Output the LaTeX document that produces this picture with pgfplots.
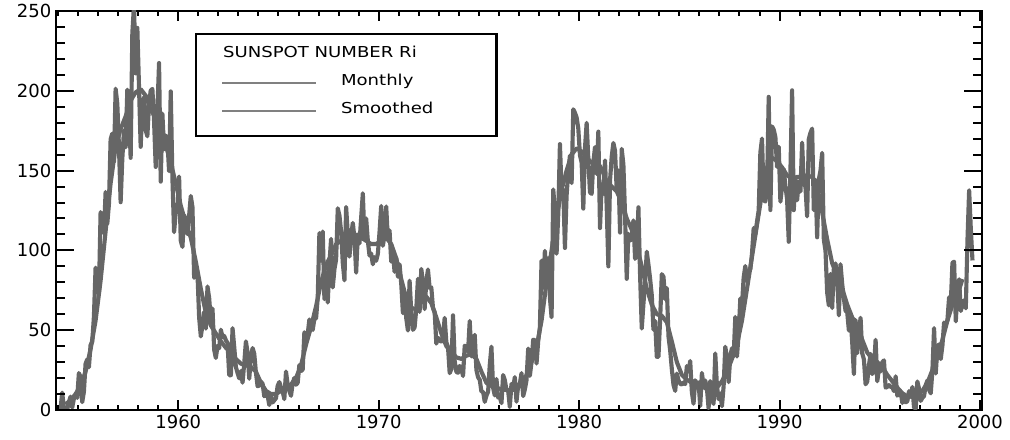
\documentclass[border=0pt]{standalone}
\usepackage{fontspec}
\setmainfont{DejaVu Sans}
\newfontfamily\legfont[FakeStretch=1.2]{DejaVu Sans}
\usepackage{pgfplots}
\pgfplotsset{compat=1.18}
\usepackage{pgfplotstable}
\usetikzlibrary{calc}

% monthly sunspot number, Jan 1954 - Aug 1999 (one row per month)
\pgfplotstableread[row sep=\\]{
r\\
0.2\\ 0.5\\ 10.9\\ 1.8\\ 0.8\\ 0.2\\ 4.8\\ 8.4\\ 1.5\\ 7.0\\ 9.2\\ 7.6\\
23.1\\ 20.8\\ 4.9\\ 11.3\\ 28.9\\ 31.7\\ 26.7\\ 40.7\\ 42.7\\ 58.5\\ 89.2\\ 76.9\\
73.6\\ 124.0\\ 118.4\\ 110.7\\ 136.6\\ 116.6\\ 129.1\\ 169.6\\ 173.2\\ 155.3\\ 201.3\\ 192.1\\
165.0\\ 130.2\\ 157.4\\ 175.2\\ 164.6\\ 200.7\\ 187.2\\ 158.0\\ 235.8\\ 253.8\\ 210.9\\ 239.4\\
202.5\\ 164.9\\ 190.7\\ 196.0\\ 175.3\\ 171.5\\ 191.4\\ 200.2\\ 201.2\\ 181.5\\ 152.3\\ 187.6\\
217.4\\ 143.1\\ 185.7\\ 163.3\\ 172.0\\ 168.7\\ 149.6\\ 199.6\\ 145.2\\ 111.4\\ 124.0\\ 125.0\\
146.3\\ 106.0\\ 102.2\\ 122.0\\ 119.6\\ 110.2\\ 121.7\\ 134.1\\ 127.2\\ 82.8\\ 89.6\\ 85.6\\
57.9\\ 46.1\\ 53.0\\ 61.4\\ 51.0\\ 77.4\\ 70.2\\ 55.9\\ 63.6\\ 37.7\\ 32.6\\ 40.0\\
38.7\\ 50.3\\ 45.6\\ 46.4\\ 43.7\\ 42.0\\ 21.8\\ 21.8\\ 51.3\\ 39.5\\ 26.9\\ 23.2\\
19.8\\ 24.4\\ 17.1\\ 29.3\\ 43.0\\ 35.9\\ 19.6\\ 33.2\\ 38.8\\ 35.3\\ 23.4\\ 14.9\\
15.3\\ 17.7\\ 16.5\\ 8.6\\ 9.5\\ 9.1\\ 3.1\\ 9.3\\ 4.7\\ 6.1\\ 7.4\\ 15.1\\
17.5\\ 14.2\\ 11.7\\ 6.8\\ 24.1\\ 15.9\\ 11.9\\ 8.9\\ 16.8\\ 20.1\\ 15.8\\ 17.0\\
28.2\\ 24.4\\ 25.3\\ 48.7\\ 45.3\\ 47.7\\ 56.7\\ 51.2\\ 50.2\\ 57.2\\ 57.2\\ 70.4\\
110.9\\ 93.6\\ 111.8\\ 69.5\\ 86.5\\ 67.3\\ 91.5\\ 107.2\\ 76.8\\ 88.2\\ 94.3\\ 126.4\\
121.8\\ 111.9\\ 92.2\\ 81.2\\ 127.2\\ 110.3\\ 96.1\\ 109.3\\ 117.2\\ 107.7\\ 86.0\\ 109.8\\
104.4\\ 120.5\\ 135.8\\ 106.8\\ 120.0\\ 106.0\\ 96.8\\ 98.0\\ 91.3\\ 95.7\\ 93.5\\ 97.9\\
111.5\\ 127.8\\ 102.9\\ 109.5\\ 127.5\\ 106.8\\ 112.5\\ 93.0\\ 99.5\\ 86.6\\ 95.2\\ 83.5\\
91.3\\ 79.0\\ 60.7\\ 71.8\\ 57.5\\ 49.8\\ 81.0\\ 61.4\\ 50.2\\ 51.7\\ 63.2\\ 82.2\\
61.5\\ 88.4\\ 80.1\\ 63.2\\ 80.5\\ 88.0\\ 76.5\\ 76.8\\ 64.0\\ 61.3\\ 41.6\\ 45.3\\
43.4\\ 42.9\\ 46.0\\ 57.7\\ 42.4\\ 39.5\\ 23.1\\ 25.6\\ 59.3\\ 30.7\\ 23.9\\ 23.3\\
27.6\\ 26.0\\ 21.3\\ 40.3\\ 39.5\\ 36.6\\ 55.8\\ 33.6\\ 40.2\\ 47.1\\ 25.0\\ 20.5\\
18.9\\ 11.5\\ 11.5\\ 5.1\\ 9.0\\ 11.4\\ 28.2\\ 39.7\\ 13.9\\ 9.1\\ 19.4\\ 7.8\\
8.1\\ 4.3\\ 21.9\\ 18.8\\ 12.4\\ 12.2\\ 1.9\\ 16.4\\ 13.5\\ 20.6\\ 5.2\\ 15.3\\
16.4\\ 23.1\\ 8.7\\ 12.9\\ 18.6\\ 38.5\\ 21.4\\ 30.1\\ 44.0\\ 43.8\\ 29.1\\ 43.2\\
51.9\\ 93.6\\ 76.5\\ 99.7\\ 82.7\\ 95.1\\ 70.4\\ 58.1\\ 138.2\\ 125.1\\ 97.9\\ 122.7\\
166.6\\ 137.5\\ 138.0\\ 101.5\\ 134.4\\ 149.5\\ 159.4\\ 142.2\\ 188.4\\ 186.2\\ 183.3\\ 176.3\\
159.6\\ 155.0\\ 126.2\\ 164.1\\ 179.9\\ 157.3\\ 136.3\\ 135.4\\ 155.0\\ 164.7\\ 147.9\\ 174.4\\
114.0\\ 141.3\\ 135.5\\ 156.4\\ 127.5\\ 90.0\\ 143.8\\ 158.7\\ 167.3\\ 162.4\\ 137.5\\ 150.1\\
111.2\\ 163.6\\ 153.8\\ 122.0\\ 82.2\\ 110.4\\ 106.1\\ 107.6\\ 118.8\\ 94.7\\ 98.1\\ 127.0\\
84.3\\ 51.0\\ 66.5\\ 80.7\\ 99.2\\ 91.1\\ 82.2\\ 71.8\\ 50.3\\ 55.8\\ 33.3\\ 33.4\\
57.0\\ 85.1\\ 83.5\\ 69.4\\ 76.4\\ 46.1\\ 37.4\\ 25.5\\ 15.7\\ 12.0\\ 22.8\\ 18.7\\
16.5\\ 15.9\\ 17.2\\ 16.2\\ 27.5\\ 24.2\\ 30.7\\ 11.1\\ 3.9\\ 18.6\\ 16.2\\ 17.3\\
2.5\\ 23.2\\ 15.1\\ 18.5\\ 13.7\\ 1.1\\ 18.1\\ 7.4\\ 3.8\\ 35.4\\ 15.2\\ 6.8\\
10.4\\ 2.4\\ 14.7\\ 39.6\\ 33.0\\ 17.4\\ 33.9\\ 38.7\\ 33.6\\ 58.3\\ 33.5\\ 47.8\\
69.8\\ 65.5\\ 83.0\\ 90.2\\ 80.5\\ 87.2\\ 88.1\\ 98.1\\ 114.0\\ 110.0\\ 118.0\\ 125.0\\
161.3\\ 170.1\\ 131.4\\ 130.6\\ 138.5\\ 196.2\\ 125.3\\ 177.7\\ 175.6\\ 171.1\\ 152.3\\ 165.0\\
130.5\\ 140.3\\ 150.9\\ 140.3\\ 132.2\\ 105.4\\ 149.4\\ 200.3\\ 125.2\\ 145.5\\ 131.4\\ 143.1\\
136.9\\ 167.5\\ 141.9\\ 140.0\\ 121.3\\ 169.7\\ 173.7\\ 176.3\\ 125.3\\ 144.1\\ 108.2\\ 144.4\\
150.0\\ 161.1\\ 106.7\\ 99.8\\ 73.6\\ 65.5\\ 85.2\\ 63.9\\ 88.7\\ 91.8\\ 82.6\\ 59.3\\
91.3\\ 79.0\\ 69.8\\ 62.2\\ 61.3\\ 49.8\\ 57.9\\ 42.2\\ 22.4\\ 56.4\\ 35.6\\ 48.9\\
57.8\\ 35.5\\ 31.7\\ 16.1\\ 17.8\\ 28.0\\ 35.1\\ 22.5\\ 25.7\\ 44.0\\ 18.0\\ 26.2\\
24.2\\ 29.9\\ 31.1\\ 14.0\\ 14.5\\ 15.6\\ 14.5\\ 14.3\\ 11.8\\ 21.1\\ 9.0\\ 10.0\\
11.5\\ 4.4\\ 9.2\\ 4.8\\ 5.5\\ 11.8\\ 8.2\\ 14.4\\ 1.6\\ 0.9\\ 17.9\\ 13.3\\
5.7\\ 7.6\\ 8.7\\ 15.5\\ 18.5\\ 12.7\\ 10.4\\ 24.4\\ 51.3\\ 22.8\\ 39.0\\ 41.2\\
31.9\\ 40.3\\ 54.8\\ 53.4\\ 56.3\\ 70.7\\ 66.6\\ 92.2\\ 92.9\\ 55.5\\ 74.0\\ 81.9\\
62.0\\ 66.3\\ 68.8\\ 63.7\\ 106.4\\ 137.7\\ 113.5\\ 93.7\\
}\monthly

% smoothed sunspot number, every 3 months from May 1954 to Feb 1999
\pgfplotstableread[row sep=\\]{
s\\
3.6\\ 6\\ 10\\
15\\ 24\\ 38\\ 56\\
81\\ 112\\ 142\\ 165\\
176\\ 184\\ 194\\ 199\\
201\\ 197\\ 188\\ 183\\
177\\ 166\\ 155\\ 142\\
128\\ 117\\ 108\\ 93\\
76\\ 61\\ 53\\ 48\\
43\\ 39\\ 36\\ 32\\
29\\ 28\\ 27\\ 24\\
17\\ 12\\ 10\\ 10\\
12\\ 14\\ 16\\ 20\\
28\\ 41\\ 52\\ 65\\
80\\ 91\\ 97\\ 104\\
106\\ 106\\ 107\\ 110\\
108\\ 106\\ 104\\ 104\\
106\\ 108\\ 104\\ 95\\
82\\ 70\\ 64\\ 63\\
68\\ 71\\ 67\\ 58\\
48\\ 40\\ 36\\ 33\\
32\\ 34\\ 35\\ 32\\
24\\ 17\\ 15\\ 14\\
13\\ 12.5\\ 12.5\\ 13\\
16\\ 22\\ 30\\ 39\\
56\\ 80\\ 100\\ 120\\
138\\ 150\\ 160\\ 164\\
162\\ 158\\ 155\\ 156\\
151\\ 143\\ 140\\ 137\\
130\\ 120\\ 113\\ 103\\
90\\ 76\\ 66\\ 60\\
59\\ 55\\ 43\\ 30\\
22\\ 19\\ 17\\ 16\\
15\\ 13\\ 13\\ 14\\
18\\ 24\\ 32\\ 41\\
56\\ 76\\ 96\\ 116\\
136\\ 152\\ 158\\ 156\\
152\\ 147\\ 145\\ 146\\
146\\ 147\\ 146\\ 140\\
124\\ 107\\ 92\\ 84\\
76\\ 66\\ 58\\ 53\\
44\\ 36\\ 32\\ 30\\
27\\ 22\\ 18\\ 14\\
10.5\\ 8.5\\ 8.5\\ 9.5\\
12\\ 17\\ 25\\ 33\\
44\\ 56\\ 66\\ 72\\
82\\
}\smoothed

\begin{document}
\begin{tikzpicture}
\begin{axis}[
  name=ax,
  scale only axis,
  width=694.5pt, height=299.25pt,
  xmin=1953.9, xmax=2000.1,
  ymin=0, ymax=250,
  xtick={1960,1970,1980,1990,2000},
  ytick={0,50,100,150,200,250},
  xticklabel pos=bottom, yticklabel pos=left,
  major tick style={draw=none},
  axis line style={line width=1.75pt},
  ticklabel style={font=\fontsize{13.5pt}{15pt}\selectfont},
  x tick label style={/pgf/number format/1000 sep={}},
  /pgf/number format/assume math mode=true,
  legend cell align=left,
  legend style={
    at={(rel axis cs:0.150,0.945)}, anchor=north west,
    draw=black, line width=1.75pt,
    inner xsep=18.75pt, inner ysep=11.25pt,
    column sep=18pt, row sep=9pt,
    font=\legfont\fontsize{11.3pt}{13pt}\selectfont,
    nodes={inner sep=0pt, text height=6pt, text depth=6pt},
  },
]
\addlegendimage{empty legend}
\addlegendentry{\hspace*{-88.5pt}SUNSPOT NUMBER Ri\hspace*{41pt}}

\addplot[black!60, line width=3.1pt, line join=round, mark=none,
  legend image code/.code={\draw[line width=1.5pt, black!50] (0pt,1.5pt) -- (70.5pt,1.5pt);}]
  table[x expr=1954+(\coordindex+0.5)/12, y=r] {\monthly};
\addlegendentry{Monthly}

\addplot[black!60, line width=3.1pt, line join=round, mark=none,
  legend image code/.code={\draw[line width=1.5pt, black!50] (0pt,1.5pt) -- (70.5pt,1.5pt);}]
  table[x expr=1954.375+\coordindex/4, y=s] {\smoothed};
\addlegendentry{Smoothed}
\end{axis}

% inward ticks: yearly on bottom and top, every 10 on left and right
\foreach \yr in {1954,...,2000}{
  \pgfmathsetmacro\xx{(\yr-1953.9)*15.0325}
  \pgfmathsetmacro\len{mod(\yr,10)==0 ? 7.5 : 3.75}
  \draw[line width=1.5pt] ($(ax.south west)+(\xx pt,0)$) -- ++(0,\len pt);
  \draw[line width=1.5pt] ($(ax.north west)+(\xx pt,0)$) -- ++(0,-\len pt);
}
\foreach \v in {0,10,...,250}{
  \pgfmathsetmacro\yy{\v*1.197}
  \pgfmathsetmacro\len{mod(\v,50)==0 ? 13.5 : 6.75}
  \draw[line width=1.5pt] ($(ax.south west)+(0,\yy pt)$) -- ++(\len pt,0);
  \draw[line width=1.5pt] ($(ax.south east)+(0,\yy pt)$) -- ++(-\len pt,0);
}

\pgfresetboundingbox
\path[use as bounding box] ($(ax.south west)+(-42pt,-22.5pt)$) rectangle ($(ax.north east)+(21pt,8.25pt)$);
\end{tikzpicture}
\end{document}
